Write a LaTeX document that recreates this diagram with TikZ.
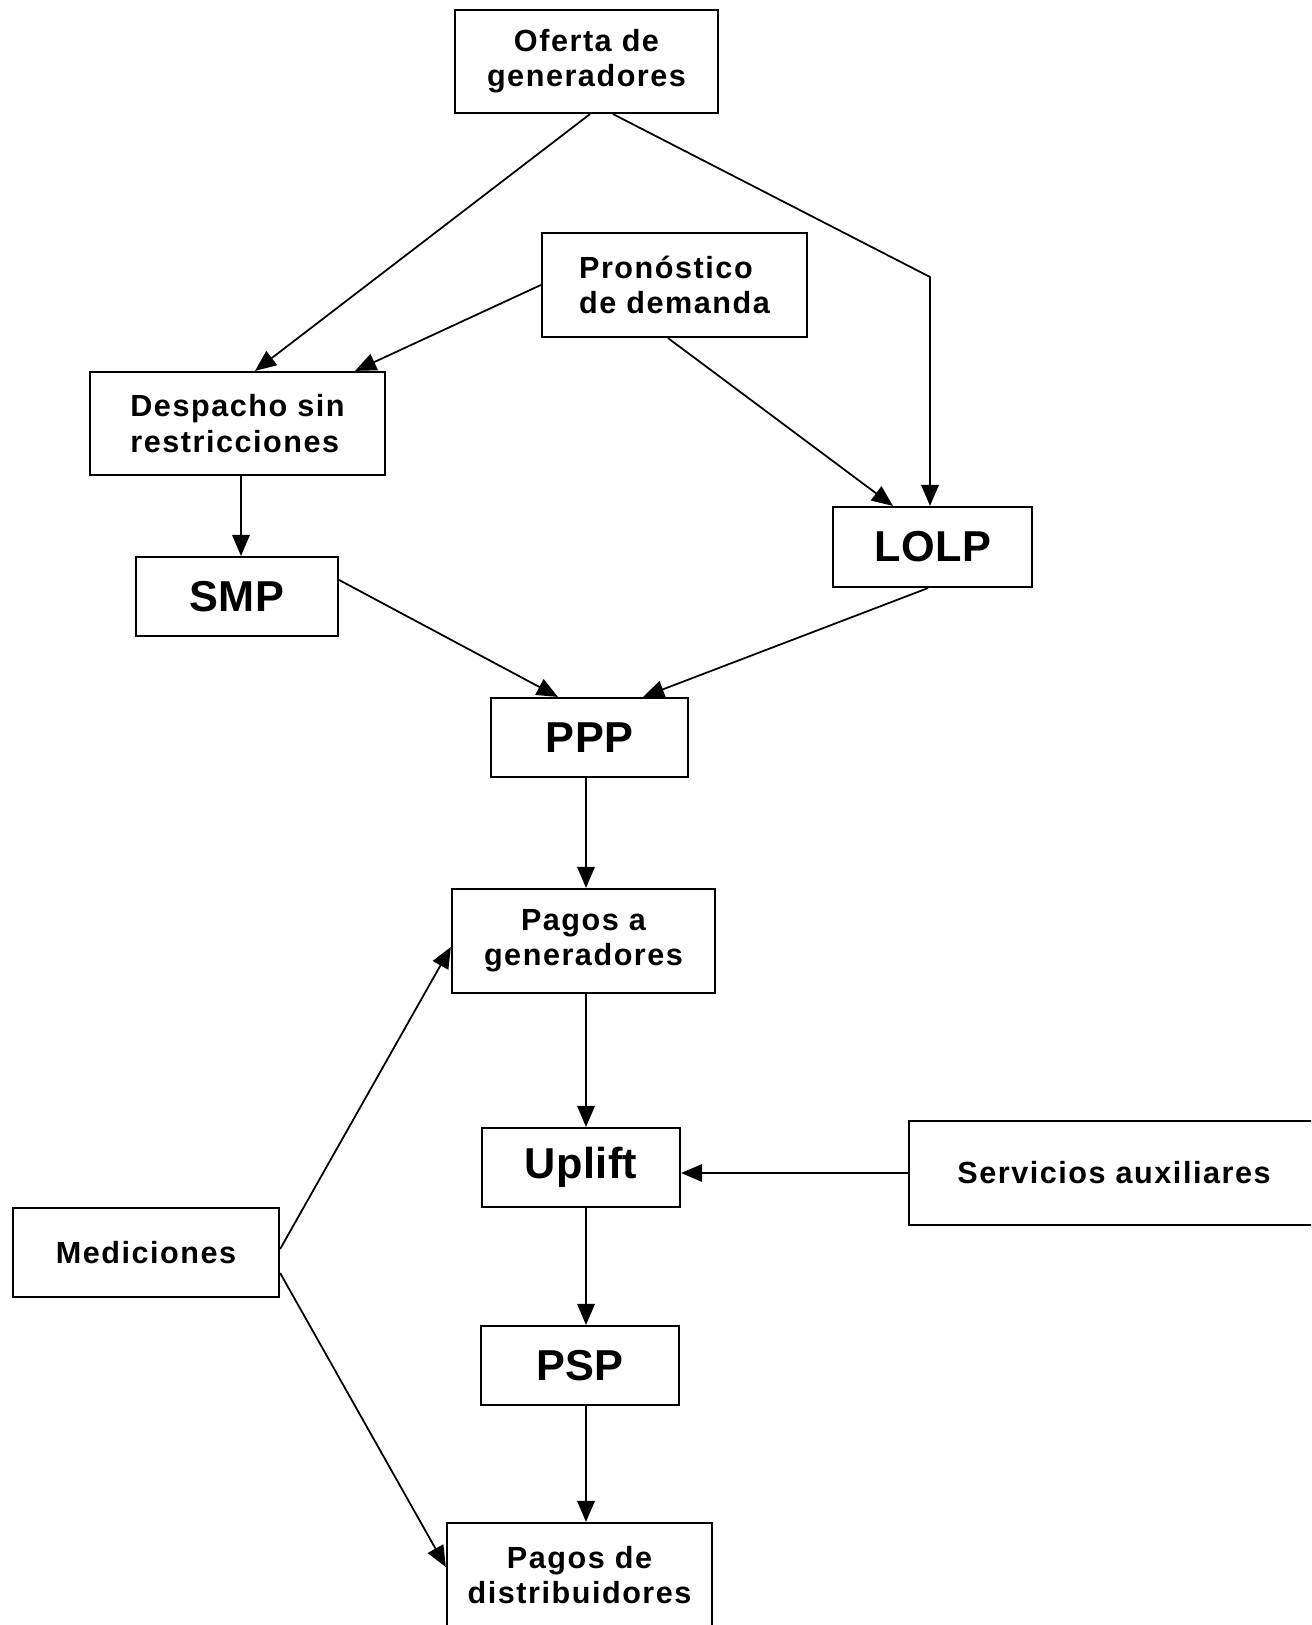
\documentclass[tikz,border=0pt]{standalone}
\usepackage{fontspec}
\setmainfont{Liberation Sans}[LetterSpace=5]
\newfontfamily\bigfont{Liberation Sans}[LetterSpace=1]
\usetikzlibrary{arrows.meta}

\tikzset{
  >={Triangle[width=5pt,length=6pt]},
  box/.style={draw, line width=0.6pt, inner sep=0pt, minimum height=1.03cm,
    align=center, font=\fontsize{8.7}{10}\selectfont\bfseries},
  bigBox/.style={box, minimum height=0.79cm, font=\bigfont\fontsize{12.3}{14}\selectfont\bfseries},
  link/.style={->, line width=0.5pt}
}

\begin{document}
\begin{tikzpicture}[x=0.01cm, y=-0.01cm]
    \useasboundingbox (0,0) rectangle (1311,1625);
    \clip (0,0) rectangle (1311,1625);
    % boxes
    \node[box, minimum width=2.63cm] (oferta) at (586.5,61.5) {Oferta de\\generadores};
    \node[box, minimum width=2.65cm, minimum height=1.04cm, align=left] (pronostico) at (674.5,285) {Pronóstico\\de demanda};
    \node[box, minimum width=2.95cm, align=left] (despacho) at (237.5,423.5) {Despacho sin\\restricciones};
    \node[bigBox, minimum width=1.99cm, minimum height=0.80cm] (lolp) at (932.5,547) {LOLP};
    \node[bigBox, minimum width=2.02cm] (smp) at (237,596.5) {SMP};
    \node[bigBox, minimum width=1.97cm] (ppp) at (589.5,737.5) {PPP};
    \node[box, minimum width=2.63cm, minimum height=1.04cm] (pagosGen) at (583.5,941) {Pagos a\\generadores};
    \node[bigBox, minimum width=1.98cm] (uplift) at (581,1167.5) {Uplift};
    \node[bigBox, minimum width=1.98cm] (psp) at (580,1365.5) {PSP};
    \node[box, minimum width=2.65cm, minimum height=1.04cm] (pagosDist) at (579.5,1575) {Pagos de\\distribuidores};
    \node[box, minimum width=2.66cm, minimum height=0.89cm] (mediciones) at (146,1252.5) {Mediciones};
    \node[box, minimum width=4.10cm, minimum height=1.04cm] (servicios) at (1114,1173) {Servicios auxiliares};
    % connectors
    \coordinate (bend) at (930,277);
    \coordinate (axis) at (586,0);
    \draw[link] ([xshift=0.035cm]oferta.south) -- ([xshift=0.175cm]despacho.north);
    \draw[link] ([xshift=0.265cm]oferta.south) -- (bend) -- (bend |- lolp.north);
    \draw[link] (pronostico.west) -- ([xshift=1.175cm]despacho.north);
    \draw[link] ([xshift=-0.065cm]pronostico.south) -- ([xshift=-0.395cm]lolp.north);
    \draw[link] ([xshift=0.035cm]despacho.south) -- ([xshift=0.04cm]smp.north);
    \draw[link] ([yshift=0.165cm]smp.east) -- ([xshift=-0.315cm]ppp.north);
    \draw[link] ([xshift=-0.045cm]lolp.south) -- ([xshift=0.535cm]ppp.north);
    \draw[link] (ppp.south -| axis) -- (pagosGen.north -| axis);
    \draw[link] (pagosGen.south -| axis) -- (uplift.north -| axis);
    \draw[link] (servicios.west) -- (servicios.west -| uplift.east);
    \draw[link] (uplift.south -| axis) -- (psp.north -| axis);
    \draw[link] (psp.south -| axis) -- (pagosDist.north -| axis);
    \draw[link] ([yshift=0.035cm]mediciones.east) -- ([yshift=-0.06cm]pagosGen.west);
    \draw[link] ([yshift=-0.205cm]mediciones.east) -- ([yshift=0.08cm]pagosDist.west);
\end{tikzpicture}
\end{document}
